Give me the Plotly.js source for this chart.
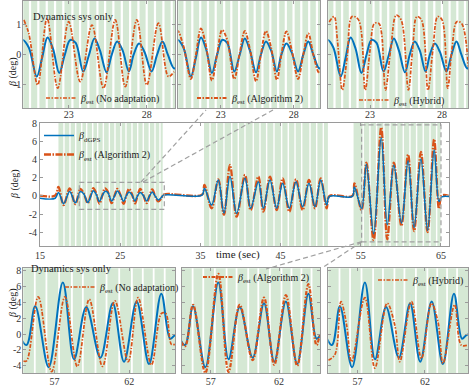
<!DOCTYPE html>
<html>
<head>
<meta charset="utf-8">
<script src="https://cdn.plot.ly/plotly-3.0.1.min.js"></script>
<style>
  html, body { margin: 0; padding: 0; background: #fff; }
  #chart { width: 470px; height: 387px; }
</style>
</head>
<body>
<div id="chart"></div>
<script>
// Sideslip estimate vs dGPS reference: one overview run + three zoomed windows on top and bottom.

// --- data ---
const tMain = [15.0, 16.9, 17.3, 17.95, 18.7, 19.4,
  20.05, 20.45, 20.96, 21.3, 21.65, 22.0, 22.4, 22.75, 23.1, 23.45, 23.93, 24.3, 24.65, 25.0,
  25.42, 25.75, 26.1, 26.45, 26.85, 27.15, 27.5, 27.85, 28.3, 28.65, 29.0, 29.35, 29.75, 30.1, 30.4,
  35.2, 35.5, 36.4, 37.23, 37.94, 38.69, 39.52, 40.56, 41.27, 42.23, 42.85, 43.68, 44.51, 45.26,
  46.09, 46.92, 47.75, 48.54, 49.29, 50.0, 50.75, 51.1,
  53.95, 54.2, 55.1, 55.7, 56.6, 57.55, 58.3, 59.12, 60.07, 60.9, 61.65, 62.5, 63.33, 64.15, 64.75, 65.1, 66.0];
const betaDgps = [-0.25, -0.25, 0.4, -0.85, 0.5, -0.75,
  0.5, 0.25, -0.72, -0.1, 0.58, 0.2, -0.6, 0.0, 0.5, 0.4, -0.55, 0.0, 0.55, 0.15,
  -0.58, 0.0, 0.45, 0.15, -0.55, 0.0, 0.38, 0.1, -0.55, 0.0, 0.45, 0.0, -0.45, -0.2, 0.1,
  0.1, 0.85, -1.0, 1.78, -1.9, 2.15, -1.93, 1.96, -1.37, 1.59, -1.37, 1.78, -1.37, 1.41,
  -1.37, 1.59, -1.19, 1.41, -1.19, 1.78, -1.0, -0.05,
  -0.05, 1.0, -1.4, 3.5, -4.2, 6.5, -3.2, 3.4, -3.0, 3.9, -3.5, 4.1, -3.8, 5.1, -0.6, -0.1, -0.05];
const betaAlg2 = [0.05, 0.05, 1.0, -1.0, 0.85, -0.9,
  0.8, 0.3, -0.8, 0.0, 0.88, 0.3, -0.85, 0.0, 0.83, 0.5, -0.8, 0.05, 0.8, 0.2,
  -0.88, 0.0, 0.8, 0.25, -0.83, 0.0, 0.78, 0.2, -0.8, 0.0, 0.72, 0.0, -0.6, -0.3, 0.15,
  0.15, 1.22, -1.37, 1.85, -2.1, 3.44, -2.3, 2.33, -1.56, 2.15, -1.74, 2.15, -1.56, 1.96,
  -1.74, 1.85, -1.56, 1.78, -1.37, 1.96, -1.37, 0.0,
  0.0, 1.41, -1.56, 3.7, -4.9, 7.6, -4.8, 3.7, -3.3, 4.6, -3.9, 4.9, -4.0, 6.3, -1.4, 0.05, 0.0];

// top window (20-30 s)
const tNoAdTop = [20.13, 20.45, 21.02, 21.62, 22.3, 23.0, 23.74, 24.49, 25.23, 25.98, 26.62, 27.36, 28.0, 28.74, 29.38, 29.74];
const betaNoAdTop = [1.17, 0.72, -1.0, 1.22, -1.11, 1.11, -0.89, 1.0, -1.11, 1.17, -1.06, 1.17, -1.0, 1.06, -0.72, -0.56];
const tHybTop = [20.16, 20.5, 20.73, 21.07, 21.41, 21.75, 22.2, 22.66, 23.0, 23.3, 23.61, 23.8, 24.07, 24.43,
  24.82, 25.16, 25.66, 25.95, 26.25, 26.57, 27.02, 27.36, 27.7, 28.0, 28.39, 28.68, 29.02, 29.36, 29.82];
const betaHybTop = [1.1, 1.28, 0.5, -1.17, -0.06, 1.28, 1.17, -1.17, 0.17, 1.05, 1.05, 0.72, -1.17, 0.17,
  1.33, 1.17, -1.17, 0.17, 1.28, 1.17, -1.17, 0.17, 1.28, 1.17, -1.11, 0.17, 1.11, 1.05, -0.39];

// bottom window (55-65 s)
const tNoAdBot = [54.9, 55.12, 55.9, 56.8, 57.69, 58.52, 59.32, 60.21, 61.04, 61.93, 62.6, 63.49, 64.16, 64.45, 64.83, 65.06];
const betaNoAdBot = [-3.4, -3.4, 4.7, -4.75, 4.7, -4.1, 4.4, -4.1, 4.2, -3.5, 4.6, -3.9, 2.6, 2.6, -1.3, -1.3];
const tHybBot = [54.84, 55.33, 55.78, 56.2, 56.56, 57.55, 58.29, 59.2, 59.77, 60.14, 61.0, 61.74, 62.48, 62.97, 63.34, 64.2, 64.69, 65.19];
const betaHybBot = [-3.3, -2.6, 4.1, 1.1, -3.5, 4.6, -4.3, 3.9, 1.1, -3.5, 4.1, -3.1, 3.9, 1.5, -3.7, 3.7, -1.4, -1.4];

// shaded spans and the white marks inside them
const shadedSpans = [[17.3, 30.3], [35.45, 50.9], [54.1, 64.95]];
const marksMain = [17.99, 18.74, 19.45, 20.2, 20.82, 21.57, 22.19, 22.9, 23.65, 24.35, 25.1, 25.72, 26.47, 27.18,
  27.88, 28.63, 29.34, 29.96,
  36.2, 37.03, 37.94, 38.9, 39.73, 40.56, 41.6, 42.43, 43.26, 44.18, 45.13, 45.96, 46.8, 47.63, 48.67, 49.5, 50.33,
  55.3, 56.14, 56.97, 57.89, 58.64, 59.47, 60.3, 61.13, 61.96, 62.79, 63.63, 64.46];
const marksTop = [20.53, 21.06, 21.6, 22.13, 22.66, 23.24, 23.73, 24.26, 24.84, 25.33, 25.86, 26.4, 26.93, 27.46, 27.99, 28.52, 29.06, 29.59];
const marksBot = [55.67, 56.45, 57.3, 58.16, 58.89, 59.74, 60.48, 61.33, 62.18, 62.91, 63.64, 64.38];

const mainXTicks = [15, 25, 35, 45, 55, 65];
const topXTicks = [23, 28];
const botXTicks = [57, 62];
const topYTicks = [-1, 0, 1];
const bigYTicks = [-4, -2, 0, 2, 4, 6, 8];

// --- styling ---
const FONT = 'Liberation Serif, Times New Roman, serif';
const RED = '#D95319';
const BLUE = '#0072BD';
const GREEN = '#d5e8d4';
const FRAME = '#9a9a9a';
const DASHDOT = '4px,1.5px,1.5px,1.5px';
const W = 470, H = 387;
const px = x => x / W;
const py = y => 1 - y / H;

function axis(dom, range, ticks, withLabels, anchor, standoff) {
  return {
    domain: dom, range: range, anchor: anchor,
    tickmode: 'array', tickvals: ticks, ticktext: ticks.map(String),
    showticklabels: withLabels, ticklabelstandoff: standoff || 0,
    ticks: 'inside', ticklen: 3, tickcolor: FRAME,
    showline: true, linecolor: FRAME, linewidth: 1, mirror: 'ticks',
    showgrid: false, zeroline: false, fixedrange: true,
    tickfont: { family: FONT, size: 10, color: '#333' },
  };
}

const topY = [-1.78, 1.8], botY = [-4.96, 8.3];
const topDomY = [py(108.3), py(1)], botDomY = [py(373.3), py(268.3)];
const layout = {
  width: W, height: H,
  margin: { l: 0, r: 0, t: 0, b: 0 },
  paper_bgcolor: '#fff', plot_bgcolor: '#fff',
  font: { family: FONT, size: 10, color: '#222' },
  // overview
  xaxis: axis([px(40), px(449)], [15, 66], mainXTicks, true, 'y'),
  yaxis: axis([py(246), py(123)], [-5.55, 8.1], bigYTicks, true, 'x'),
  // top row
  xaxis2: axis([px(23.3), px(175)], [20.1, 29.8], topXTicks, true, 'y2', -3),
  yaxis2: axis(topDomY, topY, topYTicks, true, 'x2', -1),
  xaxis3: axis([px(178.3), px(320)], [20.1, 29.8], topXTicks, true, 'y3', -3),
  yaxis3: axis(topDomY, topY, topYTicks, false, 'x3'),
  xaxis4: axis([px(328.3), px(468)], [20.1, 29.8], topXTicks, true, 'y4', -3),
  yaxis4: axis(topDomY, topY, topYTicks, false, 'x4'),
  // bottom row
  xaxis5: axis([px(23.3), px(175)], [54.9, 65.07], botXTicks, true, 'y5', -1),
  yaxis5: axis(botDomY, botY, bigYTicks, true, 'x5', -1),
  xaxis6: axis([px(181.7), px(320)], [54.87, 65.0], botXTicks, true, 'y6', -1),
  yaxis6: axis(botDomY, botY, bigYTicks, false, 'x6'),
  xaxis7: axis([px(328.3), px(468)], [54.84, 65.19], botXTicks, true, 'y7', -1),
  yaxis7: axis(botDomY, botY, bigYTicks, false, 'x7'),
  shapes: [],
  annotations: [],
};

// green spans with white marks
function shade(xa, ya, range, marks, whole, markWidth) {
  if (whole) {
    layout.shapes.push({ type: 'rect', xref: xa + ' domain', yref: ya + ' domain', x0: 0, x1: 1, y0: 0, y1: 1,
      fillcolor: GREEN, line: { width: 0 }, layer: 'below' });
  } else {
    shadedSpans.forEach(([a, b]) => {
      layout.shapes.push({ type: 'rect', xref: xa, yref: ya + ' domain', x0: a, x1: b, y0: 0, y1: 1,
        fillcolor: GREEN, line: { width: 0 }, layer: 'below' });
    });
  }
  marks.filter(m => m > range[0] && m < range[1]).forEach(m => {
    layout.shapes.push({ type: 'line', xref: xa, yref: ya + ' domain', x0: m, x1: m, y0: 0, y1: 1,
      line: { color: '#fff', width: markWidth }, layer: 'below' });
  });
}
shade('x', 'y', [15, 66], marksMain, false, 1.4);
shade('x2', 'y2', [20.1, 29.8], marksTop, true, 2.2);
shade('x3', 'y3', [20.1, 29.8], marksTop, true, 2.2);
shade('x4', 'y4', [20.1, 29.8], marksTop, true, 2.2);
shade('x5', 'y5', [54.9, 65.07], marksBot, true, 1.8);
shade('x6', 'y6', [54.87, 65.0], marksBot, true, 1.8);
shade('x7', 'y7', [54.84, 65.19], marksBot, true, 1.8);

// zoom boxes and connector lines
const dashGrey = { color: '#a0a0a0', width: 1.2, dash: '5px,3px' };
layout.shapes.push(
  { type: 'rect', xref: 'x', yref: 'y', x0: 19.9, x1: 30.5, y0: -1.48, y1: 1.52, line: dashGrey },
  { type: 'rect', xref: 'x', yref: 'y', x0: 55.1, x1: 65.0, y0: -5.1, y1: 7.9, line: dashGrey },
  { type: 'line', xref: 'paper', yref: 'paper', x0: px(141), y0: py(182), x1: px(206), y1: py(110), line: dashGrey },
  { type: 'line', xref: 'paper', yref: 'paper', x0: px(143), y0: py(182), x1: px(273), y1: py(110), line: dashGrey },
  { type: 'line', xref: 'paper', yref: 'paper', x0: px(361.7), y0: py(241.7), x1: px(266), y1: py(269), line: dashGrey },
  { type: 'line', xref: 'paper', yref: 'paper', x0: px(361.7), y0: py(241.7), x1: px(321.7), y1: py(268.3), line: dashGrey }
);

// text
const note = (x, y, text, extra) => Object.assign({ xref: 'paper', yref: 'paper', x: px(x), y: py(y), text: text,
  showarrow: false, font: { family: FONT, size: 11, color: '#222' } }, extra || {});
const yTitleFont = { family: FONT, size: 10, color: '#222' };
layout.annotations.push(
  note(5, 55, '<i>β</i> (deg)', { textangle: -90, font: yTitleFont }),
  note(7, 184, '<i>β</i> (deg)', { textangle: -90, font: yTitleFont }),
  note(5, 320, '<i>β</i> (deg)', { textangle: -90, font: yTitleFont }),
  note(238, 263, 'time (sec)'),
  note(31, 9, 'Dynamics sys only', { xanchor: 'left', font: { family: FONT, size: 10.5, color: '#222' } }),
  note(29, 276, 'Dynamics sys only', { xanchor: 'left', font: { family: FONT, size: 10.5, color: '#222' } })
);

// one small legend per panel
const legendAt = (x, y) => ({ x: px(x), y: py(y), xanchor: 'left', yanchor: 'middle', bgcolor: 'rgba(0,0,0,0)',
  borderwidth: 0, font: { family: FONT, size: 10, color: '#222' }, itemwidth: 30, tracegroupgap: 0 });
layout.legend = legendAt(39, 145);
layout.legend2 = legendAt(41, 98);
layout.legend3 = legendAt(192, 98);
layout.legend4 = legendAt(354, 100);
layout.legend5 = legendAt(60, 287);
layout.legend6 = legendAt(198, 277);
layout.legend7 = legendAt(373, 280);

const EST = '<i>β</i><sub>est</sub>';
const blueLine = (xa, ya, shape, w) => ({
  x: tMain, y: betaDgps, xaxis: xa, yaxis: ya, type: 'scatter', mode: 'lines', showlegend: false,
  line: { color: BLUE, width: w, shape: shape, smoothing: 1 }, hoverinfo: 'skip',
});
const redLine = (x, y, xa, ya, name, legend, shape, w, dash) => ({
  x: x, y: y, xaxis: xa, yaxis: ya, type: 'scatter', mode: 'lines', name: name, legend: legend,
  line: { color: RED, width: w, dash: dash || DASHDOT, shape: shape, smoothing: 1 }, hoverinfo: 'skip',
});

const traces = [
  // overview
  Object.assign(redLine(tMain, betaAlg2, 'x', 'y', EST + ' (Algorithm 2)', 'legend', 'spline', 2.3, '7px,1.5px,1.5px,1.5px'), { legendrank: 2 }),
  Object.assign(blueLine('x', 'y', 'spline', 1.5), { showlegend: true, name: '<i>β</i><sub>dGPS</sub>', legend: 'legend', legendrank: 1 }),
  // top row
  blueLine('x2', 'y2', 'spline', 2),
  redLine(tNoAdTop, betaNoAdTop, 'x2', 'y2', EST + ' (No adaptation)', 'legend2', 'spline', 1.7),
  blueLine('x3', 'y3', 'spline', 2),
  redLine(tMain, betaAlg2, 'x3', 'y3', EST + ' (Algorithm 2)', 'legend3', 'spline', 1.9),
  blueLine('x4', 'y4', 'spline', 2),
  redLine(tHybTop, betaHybTop, 'x4', 'y4', EST + ' (Hybrid)', 'legend4', 'spline', 1.7),
  // bottom row
  blueLine('x5', 'y5', 'spline', 2),
  redLine(tNoAdBot, betaNoAdBot, 'x5', 'y5', EST + ' (No adaptation)', 'legend5', 'spline', 1.7),
  blueLine('x6', 'y6', 'spline', 2),
  redLine(tMain, betaAlg2, 'x6', 'y6', EST + ' (Algorithm 2)', 'legend6', 'spline', 2.2),
  blueLine('x7', 'y7', 'spline', 2),
  redLine(tHybBot, betaHybBot, 'x7', 'y7', EST + ' (Hybrid)', 'legend7', 'spline', 1.7),
];

Plotly.newPlot('chart', traces, layout, { displayModeBar: false, staticPlot: true });
</script>
</body>
</html>
